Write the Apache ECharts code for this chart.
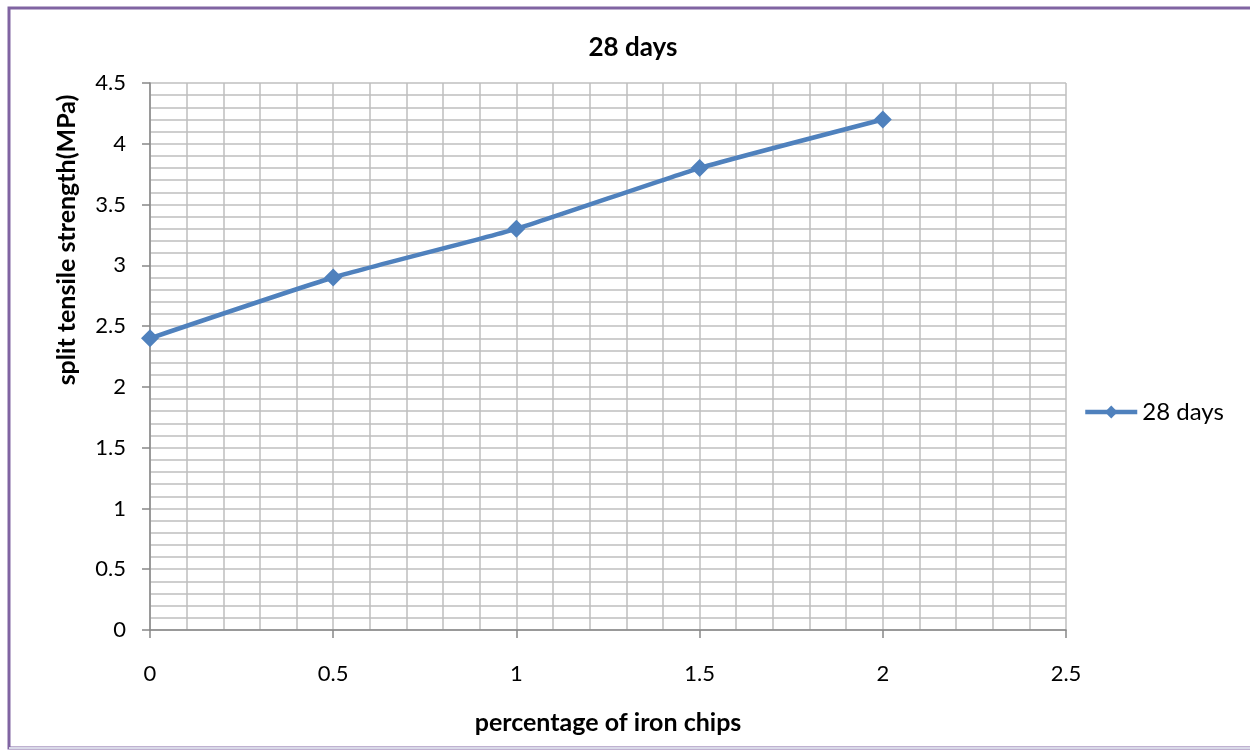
<!DOCTYPE html>
<html>
<head>
<meta charset="utf-8">
<script src="https://cdn.jsdelivr.net/npm/echarts@6/dist/echarts.min.js"></script>
<style>html,body{margin:0;padding:0;background:#fff;}#c{width:1250px;height:750px;}</style>
</head>
<body>
<div id="c"></div>
<script>
var xValues = [0, 0.5, 1, 1.5, 2];
var strength28 = [2.4, 2.9, 3.3, 3.8, 4.2];
var seriesName = '28 days';
var chartTitle = '28 days';
var xAxisTitle = 'percentage of iron chips';
var yAxisTitle = 'split tensile strength(MPa)';

var font = 'Lato, "Open Sans", sans-serif';
var chart = echarts.init(document.getElementById('c'));
chart.setOption({
  backgroundColor: '#fff',
  animation: false,
  title: {
    text: chartTitle, left: 628, top: 30, textAlign: 'center',
    textStyle: {fontFamily: font, fontSize: 26, fontWeight: 'bold', color: '#000'}
  },
  legend: {
    left: 1078, top: 395, itemWidth: 52, itemHeight: 16, itemGap: 6,
    textStyle: {fontFamily: font, fontSize: 24, color: '#000'},
    lineStyle: {width: 4.5},
    data: [seriesName]
  },
  grid: {left: 150, top: 83, width: 916, height: 547, containLabel: false},
  xAxis: {
    type: 'value', min: 0, max: 2.5, interval: 0.5,
    name: xAxisTitle, nameLocation: 'middle', nameGap: 80,
    nameTextStyle: {fontFamily: font, fontSize: 25, fontWeight: 'bold', color: '#000'},
    axisLine: {onZero: false, lineStyle: {color: '#888', width: 1.5}},
    axisTick: {show: true, length: 8, lineStyle: {color: '#888', width: 1.5}},
    axisLabel: {fontFamily: font, fontSize: 22, color: '#000', margin: 33},
    splitLine: {show: true, lineStyle: {color: '#bfbfbf', width: 1.5}},
    minorTick: {show: false, splitNumber: 5},
    minorSplitLine: {show: true, lineStyle: {color: '#bfbfbf', width: 1.5}}
  },
  yAxis: {
    type: 'value', min: 0, max: 4.5, interval: 0.5,
    axisLine: {show: true, lineStyle: {color: '#888', width: 1.5}},
    axisTick: {show: true, length: 8, lineStyle: {color: '#888', width: 1.5}},
    axisLabel: {fontFamily: font, fontSize: 22, color: '#000', margin: 24},
    splitLine: {show: true, lineStyle: {color: '#bfbfbf', width: 1.5}},
    minorTick: {show: false, splitNumber: 5},
    minorSplitLine: {show: true, lineStyle: {color: '#bfbfbf', width: 1.5}}
  },
  graphic: [
    {type: 'rect', shape: {x: 9, y: 8, width: 1250, height: 740},
     style: {fill: 'none', stroke: '#8064a2', lineWidth: 3}, silent: true},
    {type: 'line', shape: {x1: 9, y1: 748, x2: 1250, y2: 748},
     style: {stroke: '#d9d9e8', lineWidth: 2}, silent: true},
    {type: 'text', x: 67, y: 240, rotation: Math.PI / 2,
     style: {text: yAxisTitle, fontFamily: font, fontSize: 25, fontWeight: 'bold',
       fill: '#000', align: 'center', verticalAlign: 'middle'}}
  ],
  series: [{
    name: seriesName, type: 'line', smooth: 0.15,
    data: xValues.map(function (x, i) { return [x, strength28[i]]; }),
    symbol: 'diamond', symbolSize: 18,
    lineStyle: {color: '#4f81bd', width: 4.5},
    itemStyle: {color: '#4f81bd'}
  }]
});
</script>
</body>
</html>
